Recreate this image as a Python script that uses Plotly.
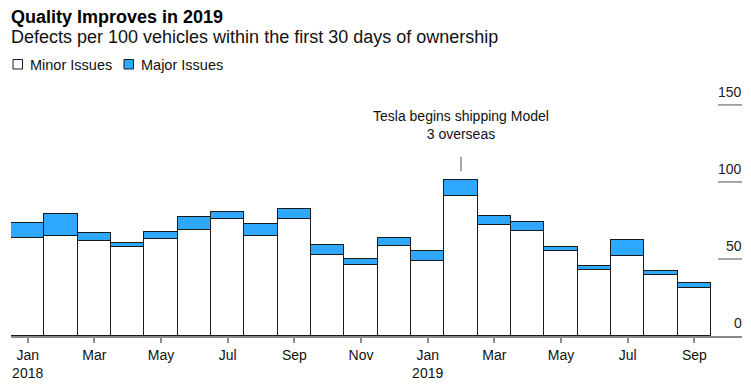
import plotly.graph_objects as go

months = ["Jan", "Feb", "Mar", "Apr", "May", "Jun", "Jul", "Aug", "Sep", "Oct", "Nov", "Dec",
          "Jan", "Feb", "Mar", "Apr", "May", "Jun", "Jul", "Aug", "Sep"]
years = ["2018"] + [""] * 11 + ["2019"] + [""] * 8
minor = [63.8, 65.0, 61.4, 58.1, 63.1, 69.0, 76.1, 65.0, 76.1, 52.7, 46.2, 58.6,
         48.8, 91.2, 71.8, 68.3, 55.3, 43.0, 52.1, 39.7, 31.3]
major = [9.7, 14.3, 5.2, 2.0, 4.6, 8.4, 4.5, 7.4, 6.5, 6.1, 4.1, 5.2,
         6.5, 9.8, 6.4, 5.4, 2.6, 2.6, 9.9, 2.2, 3.4]
y_ticks = [0, 50, 100, 150]
note_text = "Tesla begins shipping Model<br>3 overseas"
note_index = 13
title_text = "Quality Improves in 2019"
subtitle_text = "Defects per 100 vehicles within the first 30 days of ownership"
series_names = ["Minor Issues", "Major Issues"]

x = list(range(len(months)))
tickvals = x[::2]
ticktext = [m + ("<br>" + y if y else "") for m, y in zip(months, years)][::2]

FONT = "Liberation Sans, Arial, Helvetica, sans-serif"
BLUE = "#2fa9ff"
EDGE = "#1a1a1a"
GREY = "#8a8a8a"
FILLS = ["white", BLUE]

# plot area in pixels
L, R, T, B = 11, 9, 100, 50
W, H = 751, 386
PW, PH = W - L - R, H - T - B


def px_x(p):
    return (p - L) / PW


def px_y(p):
    return (H - B - p) / PH


fig = go.Figure()
for vals, name, fill in zip([minor, major], series_names, FILLS):
    fig.add_trace(go.Bar(x=x, y=vals, name=name, showlegend=False,
                         marker=dict(color=fill, line=dict(color=EDGE, width=1))))

shapes = []
annotations = []
for t in y_ticks:
    if t > 0:
        shapes.append(dict(type="line", xref="paper", yref="y", x0=px_x(718), x1=1.0, y0=t, y1=t,
                           line=dict(color=GREY, width=1.5)))
    annotations.append(dict(x=1.0, xref="paper", y=t, yref="y", text=str(t), showarrow=False,
                            xanchor="right", yanchor="bottom", yshift=3, xshift=2,
                            font=dict(family=FONT, size=14, color="#222")))

# annotation for Tesla shipping
shapes.append(dict(type="line", xref="x", yref="y", x0=note_index, x1=note_index, y0=106.8, y1=116.6,
                   line=dict(color=GREY, width=1.5)))
annotations.append(dict(x=note_index, xref="x", y=116.6, yref="y", text=note_text, showarrow=False,
                        xanchor="center", yanchor="bottom", yshift=12,
                        font=dict(family=FONT, size=14, color="#111")))

# title / subtitle
annotations.append(dict(x=px_x(9), xref="paper", y=px_y(17), yref="paper", text="<b>" + title_text + "</b>",
                        showarrow=False, xanchor="left", yanchor="middle",
                        font=dict(family=FONT, size=18, color="#000")))
annotations.append(dict(x=px_x(9), xref="paper", y=px_y(37), yref="paper", text=subtitle_text,
                        showarrow=False, xanchor="left", yanchor="middle",
                        font=dict(family=FONT, size=18, color="#111")))

# custom legend
leg_sq_x = [13, 124]
for sx, name, fill in zip(leg_sq_x, series_names, FILLS):
    shapes.append(dict(type="rect", xref="paper", yref="paper",
                       x0=px_x(sx), x1=px_x(sx + 9.5), y0=px_y(69), y1=px_y(59.5),
                       fillcolor=fill, line=dict(color=EDGE, width=1)))
    annotations.append(dict(x=px_x(sx + 14.5), xref="paper", y=px_y(64.5), yref="paper", text=name,
                            showarrow=False, xanchor="left", yanchor="middle",
                            font=dict(family=FONT, size=14.5, color="#111")))

fig.update_layout(
    width=W, height=H,
    margin=dict(l=L, r=R, t=T, b=B, autoexpand=False),
    paper_bgcolor="white", plot_bgcolor="white",
    barmode="stack", bargap=0,
    font=dict(family=FONT, size=14, color="#111"),
    showlegend=False,
    xaxis=dict(range=[-0.5, 21.43], tickvals=tickvals, ticktext=ticktext, showgrid=False,
               showline=True, linecolor=GREY, linewidth=1.5, ticks="outside", ticklen=5,
               tickcolor=GREY, tickwidth=1.5, zeroline=False,
               tickfont=dict(family=FONT, size=14, color="#111"), fixedrange=True),
    yaxis=dict(range=[0, 153.2], visible=False, showgrid=False, zeroline=False, fixedrange=True),
    shapes=shapes, annotations=annotations,
)

fig.write_html("out.html", config={"displayModeBar": False},
               post_script="document.body.style.margin='0';document.body.style.padding='0';")
